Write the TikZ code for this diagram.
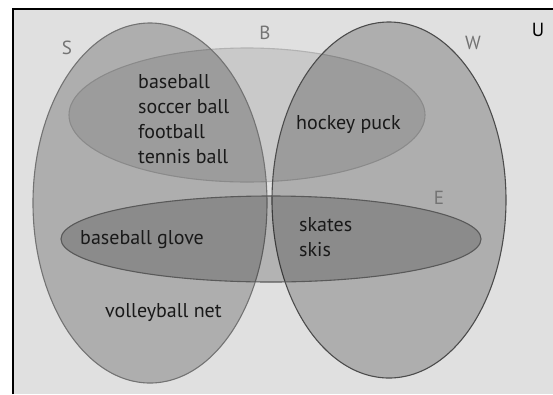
\documentclass[tikz,border=0pt]{standalone}
\usepackage{fontspec}
\setmainfont{PT Sans}
\definecolor{panel}{gray}{0.88}
\begin{document}
\begin{tikzpicture}[x=1pt, y=-1pt,
  region/.style={fill=black, line width=1.1pt},
  item/.style={anchor=west, inner sep=0pt, font=\fontsize{20}{24}\selectfont, text=black!90},
  setname/.style={inner sep=0pt, font=\fontsize{19}{22}\selectfont, text=black!55}
]
\useasboundingbox (0,0) rectangle (553,394);

% universe
\fill[panel] (13,9) rectangle (553,394);
\draw[line width=2.5pt] (13,394) -- (13,9) -- (553,9);

% sets
\draw[region, fill opacity=0.1, draw=black!30] (247,115) ellipse [x radius=178pt, y radius=67pt];
\draw[region, fill opacity=0.22, draw=black!55] (150,203) ellipse [x radius=117pt, y radius=180pt];
\draw[region, fill opacity=0.22, draw=black!70] (389,200) ellipse [x radius=117pt, y radius=178pt];
\draw[region, fill opacity=0.2, draw=black!65] (271,239) ellipse [x radius=210pt, y radius=43pt];

% set names
\node[setname] (nameS) at (67,48) {S};
\node[setname] (nameB) at (265,33) {B};
\node[setname] (nameW) at (473,43) {W};
\node[setname, text=black] (nameU) at (538,30) {U};
\node[setname] (nameE) at (439,198) {E};

% members
\node[item] (baseball) at (138,82) {baseball};
\node[item] (soccer) at (138,107) {soccer ball};
\node[item] (football) at (138,132) {football};
\node[item] (tennis) at (138,157) {tennis ball};
\node[item] (puck) at (296,125) {hockey puck};
\node[item] (glove) at (80,240) {baseball glove};
\node[item] (skates) at (299,225) {skates};
\node[item] (skis) at (299,250) {skis};
\node[item] (net) at (105,313) {volleyball net};
\end{tikzpicture}
\end{document}
